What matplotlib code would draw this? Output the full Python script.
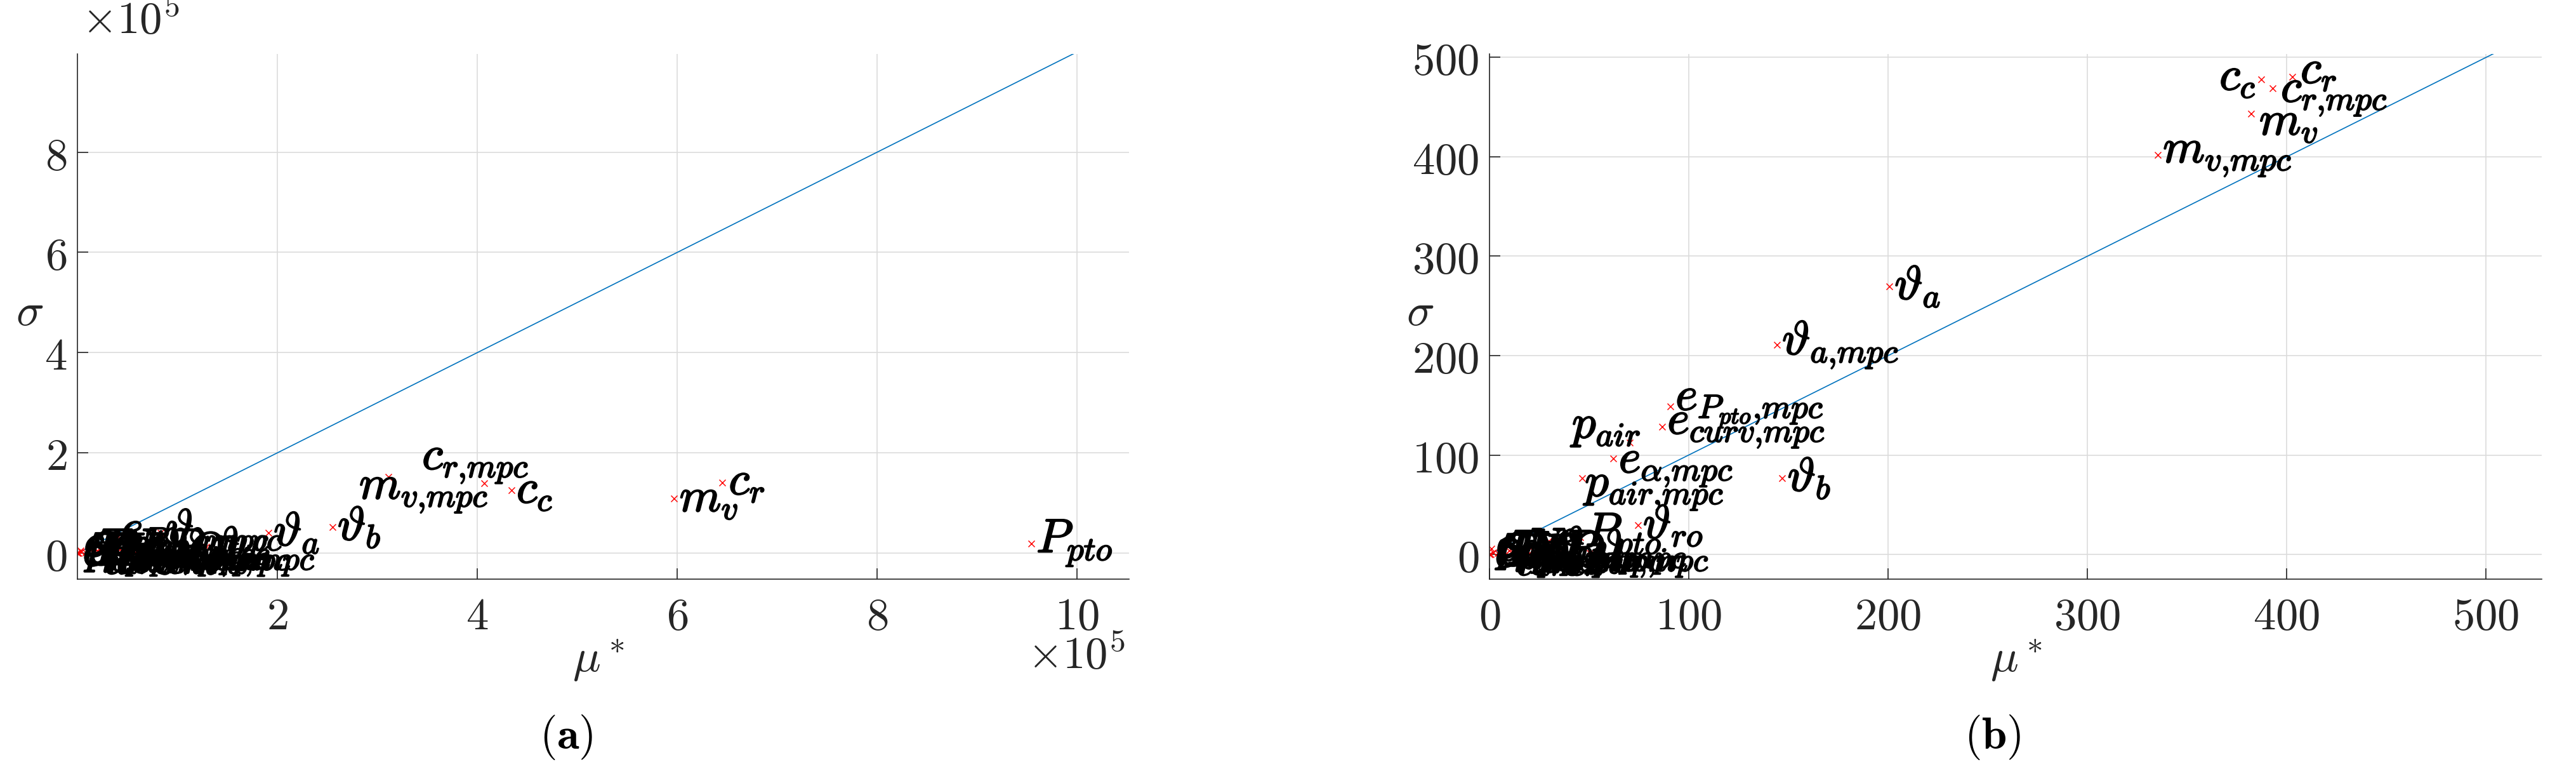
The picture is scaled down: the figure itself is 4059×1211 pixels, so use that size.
import matplotlib
matplotlib.use('Agg')
import matplotlib.pyplot as plt
import matplotlib.patheffects as pe

plt.rcParams['mathtext.fontset'] = 'cm'
plt.rcParams['font.family'] = ['DejaVu Serif']

# (a) -- elementary effects, large-scale case
names_a = ['P_{pto}', 'c_r', 'm_v', 'c_c', 'c_{r,mpc}', 'm_{v,mpc}',
           '\\vartheta_b', '\\vartheta_a', '\\vartheta_{a,mpc}', '\\vartheta_{ro}',
           '\\vartheta_{w,in}', 'e_{P_{pto},mpc}', 'p_{air}', 'e_{curv,mpc}',
           'e_{\\alpha,mpc}', 'p_{air,mpc}',
           'e_{\\alpha}', 'e_{curv}', 'e_{P_{pto}}', 'S_1', 'T_i', 'H_s', 'T_p',
           '\\rho_w', '\\rho_a', 'N_p', 'N_c', 'k_{air}', 'V_0', 'A_{ch}',
           'h_{ch}', 'c_{c,mpc}', '\\vartheta_{b,mpc}', '\\vartheta_{ro,mpc}',
           'P_{pto,mpc}', 'p_w', 'Q_w']
mu_a = [9.54e5, 6.45e5, 5.97e5, 4.34e5, 4.07e5, 3.11e5,
        2.55e5, 1.91e5, 0.83e5, 1.29e5,
        0.95e5, 0.385e5, 0.55e5, 0.30e5,
        0.45e5, 0.22e5,
        0.00, 0.00, 0.01e5, 0.04e5, 0.08e5, 0.12e5, 0.16e5,
        0.20e5, 0.25e5, 0.30e5, 0.35e5, 0.40e5, 0.46e5, 0.52e5,
        0.58e5, 0.64e5, 0.70e5, 0.78e5, 0.86e5, 0.03e5, 1.05e5]
sigma_a = [0.19e5, 1.40e5, 1.09e5, 1.26e5, 1.395e5, 1.52e5,
           0.52e5, 0.41e5, 0.40e5, 0.12e5,
           0.02e5, 0.28e5, 0.14e5, 0.08e5,
           0.03e5, 0.10e5,
           0.00, 0.01e5, 0.00, 0.03e5, 0.01e5, 0.02e5, 0.00,
           0.04e5, 0.02e5, 0.00, 0.01e5, 0.03e5, 0.00, 0.02e5,
           0.01e5, 0.00, 0.02e5, 0.01e5, 0.00, 0.05e5, 0.01e5]

# (b) -- elementary effects, small-scale case
names_b = ['c_r', 'c_c', 'c_{r,mpc}', 'm_v', 'm_{v,mpc}',
           '\\vartheta_a', '\\vartheta_{a,mpc}', '\\vartheta_b',
           'e_{P_{pto},mpc}', 'e_{curv,mpc}', 'p_{air}', 'e_{\\alpha,mpc}',
           'p_{air,mpc}', '\\vartheta_{ro}', 'P_{pto}', '\\vartheta_{w,in}',
           'e_{\\alpha}', 'e_{curv}', 'e_{P_{pto}}', 'S_1', 'T_i', 'H_s', 'T_p',
           '\\rho_w', '\\rho_a', 'N_p', 'N_c', 'k_{air}', 'V_0', 'A_{ch}',
           'h_{ch}', 'c_{c,mpc}', '\\vartheta_{b,mpc}', '\\vartheta_{ro,mpc}',
           'P_{pto,mpc}', 'p_w', 'Q_w']
mu_b = [403.0, 387.1, 393.1, 382.3, 335.3,
        200.6, 144.2, 146.9,
        90.7, 86.6, 70.3, 62.2,
        46.5, 74.4, 45.4, 50.3,
        29.6, 0.0, 0.5, 2.0, 4.0, 6.0, 8.0,
        10.0, 12.0, 14.0, 16.0, 18.0, 20.0, 22.0,
        24.0, 26.0, 28.0, 31.0, 34.0, 1.0, 37.0]
sigma_b = [480.5, 477.7, 469.3, 443.2, 401.7,
           269.8, 210.7, 76.9,
           148.9, 128.6, 112.3, 96.3,
           76.5, 29.2, 17.3, 1.0,
           13.2, 0.0, 0.0, 2.0, 1.0, 3.0, 0.0,
           4.0, 1.0, 2.0, 0.0, 5.0, 1.0, 3.0,
           0.0, 2.0, 1.0, 4.0, 0.0, 6.0, 2.0]

# label placement tweaks (offset in points, alignment)
offsets_a = {'m_{v,mpc}': (-11, -5.5, 'left'), 'c_{r,mpc}': (-23.5, 8, 'left'),
             'c_r': (2.5, 0.5, 'left')}
offsets_b = {'c_c': (-2, 1, 'right'), 'c_r': (3, 2.5, 'left'),
             'c_{r,mpc}': (3, -2.5, 'left'), 'm_v': (3, -3, 'left'),
             'p_{air}': (-8.5, 6.5, 'center'), 'e_{\\alpha,mpc}': (2, -2.5, 'left'),
             'p_{air,mpc}': (1, -4, 'left')}

W, H = 4059, 1211
fig = plt.figure(figsize=(W / 300, H / 300), dpi=300)

ax_a = fig.add_axes([122 / W, 1 - 912 / H, (1779 - 122) / W, (912 - 85) / H])
ax_b = fig.add_axes([2347 / W, 1 - 912 / H, (4005 - 2347) / W, (912 - 85) / H])

dark = '#262626'
heavy = [pe.withStroke(linewidth=0.5, foreground='black')]


def style(ax):
    for s in ['top', 'right']:
        ax.spines[s].set_visible(False)
    for s in ['left', 'bottom']:
        ax.spines[s].set_linewidth(0.4)
        ax.spines[s].set_color(dark)
    ax.tick_params(direction='in', length=4, width=0.4, colors=dark, labelsize=17)
    ax.tick_params(axis='y', pad=4)
    ax.tick_params(axis='x', pad=6)
    ax.grid(True, color='#dcdcdc', linewidth=0.4)
    ax.set_axisbelow(True)


def draw(ax, names, mu, sigma, offsets, line_max):
    ax.plot([0, line_max], [0, line_max], color='#0072BD', linewidth=0.4)
    ax.plot(mu, sigma, 'x', color='red', markersize=2.2, markeredgewidth=0.35)
    for n, x, y in zip(names, mu, sigma):
        dx, dy, ha = offsets.get(n, (2, 0, 'left'))
        label = '$' + n.replace(',', '{,}') + '$'
        ax.annotate(label, (x, y), xytext=(dx, dy), textcoords='offset points',
                    ha=ha, va='center', fontsize=18, color='black',
                    path_effects=heavy)


style(ax_a)
draw(ax_a, names_a, mu_a, sigma_a, offsets_a, 1e6)
ax_a.set_xlim(0, 10.52e5)
ax_a.set_ylim(-0.52e5, 9.96e5)
ax_a.set_xticks([2e5, 4e5, 6e5, 8e5, 10e5])
ax_a.set_xticklabels(['$2$', '$4$', '$6$', '$8$', '$10$'])
ax_a.set_yticks([0, 2e5, 4e5, 6e5, 8e5])
ax_a.set_yticklabels(['$0$', '$2$', '$4$', '$6$', '$8$'])
ax_a.text(0.004, 1.02, r'$\times10^{5}$', transform=ax_a.transAxes,
          ha='left', va='bottom', fontsize=17, color=dark)
ax_a.text(0.996, -0.105, r'$\times10^{5}$', transform=ax_a.transAxes,
          ha='right', va='top', fontsize=17, color=dark)

style(ax_b)
draw(ax_b, names_b, mu_b, sigma_b, offsets_b, 600)
ax_b.set_xlim(0, 528)
ax_b.set_ylim(-24.9, 503.5)
ax_b.set_xticks([0, 100, 200, 300, 400, 500])
ax_b.set_xticklabels(['$%d$' % v for v in [0, 100, 200, 300, 400, 500]])
ax_b.set_yticks([0, 100, 200, 300, 400, 500])
ax_b.set_yticklabels(['$%d$' % v for v in [0, 100, 200, 300, 400, 500]])

# axis labels and captions
for cx in [943, 3177]:
    fig.text(cx / W, 1 - 1040 / H, r'$\mu^*$', ha='center', va='center', fontsize=17.5, color=dark)
for cx in [47, 2238]:
    fig.text(cx / W, 1 - 492 / H, r'$\sigma$', ha='center', va='center', fontsize=17.5, color=dark)
fig.text(892 / W, 1 - 1161 / H, r'$(\mathbf{a})$', ha='center', va='center', fontsize=17, color='black')
fig.text(3140 / W, 1 - 1161 / H, r'$(\mathbf{b})$', ha='center', va='center', fontsize=17, color='black')

fig.savefig('out.png', dpi=300, facecolor='white')
